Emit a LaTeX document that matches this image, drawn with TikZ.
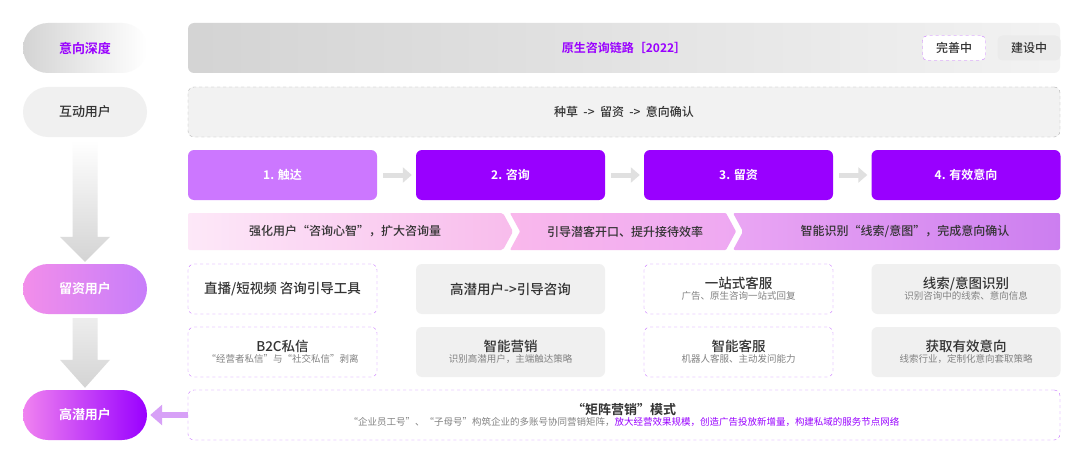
\documentclass[tikz,border=0pt]{standalone}
\usepackage{fontspec}
\setmainfont{Noto Sans CJK SC}[BoldFont={Noto Sans CJK SC Bold}]
\newfontfamily\medfont{Noto Sans CJK SC Medium}
\usepackage{tikz}
\usetikzlibrary{calc}
\usetikzlibrary{arrows.meta}

\definecolor{vio}{RGB}{153,0,255}
\definecolor{lilac}{RGB}{204,119,255}
\definecolor{txt}{RGB}{51,51,51}
\definecolor{subtxt}{RGB}{130,130,130}
\definecolor{barrow}{RGB}{215,160,247}

\tikzset{
  pill/.style={rounded corners=25pt, minimum width=124pt, minimum height=50pt, font=\bfseries\fontsize{13}{15}\selectfont},
  bar/.style={rounded corners=6pt, minimum width=872pt, minimum height=50pt},
  stepbox/.style={rounded corners=6pt, minimum width=189pt, minimum height=50pt, text=white, font=\bfseries\fontsize{12}{14}\selectfont},
  featd/.style={rounded corners=6pt, minimum width=189pt, minimum height=50pt, draw=vio!55, dashed, fill=white, align=center, text=txt},
  featg/.style={rounded corners=6pt, minimum width=189pt, minimum height=50pt, fill=black!6, align=center, text=txt},
  badge/.style={rounded corners=5pt, minimum width=63pt, minimum height=25pt, text=txt, font=\medfont\fontsize{12}{14}\selectfont},
  chev/.style={font=\medfont\fontsize{12}{14}\selectfont, text=txt},
  steparrow/.style={-{Triangle[length=9pt,width=15pt]}, line width=5pt, black!12, shorten <=6pt, shorten >=4pt},
  bararrow/.style={-{Triangle[length=12pt,width=20pt]}, line width=6pt, barrow, shorten >=3pt}
}
\newcommand{\ttl}[1]{{\medfont\fontsize{13.5}{16}\selectfont #1}}
\newcommand{\sub}[1]{{\fontsize{9.5}{12}\selectfont\color{subtxt}#1}}

\begin{document}
\begin{tikzpicture}[x=1pt, y=-1pt]

\useasboundingbox[fill=white] (0,0) rectangle (1080,452);

% left column
\node[pill, left color=black!17, right color=white, text=vio] (depth) at (85,48) {意向深度};
\node[pill, fill=black!6, text=txt, font=\medfont\fontsize{13}{15}\selectfont] (intr) at (85,112) {互动用户};
\node[pill, left color={rgb,255:red,242;green,142;blue,234}, right color={rgb,255:red,199;green,125;blue,250}, text=white] (lz) at (85,289) {留资用户};
\node[pill, left color={rgb,255:red,240;green,130;blue,240}, right color=vio, text=white] (high) at (85,415) {高潜用户};

\shade[top color=white, bottom color=black!17] let \p1=(intr.south), \p2=(lz.north) in
  (\x1-12.5pt,\y1-3pt) -- (\x1+12.5pt,\y1-3pt) -- (\x1+12.5pt,\y2+27pt) -- (\x1+25pt,\y2+27pt)
  -- (\x1,\y2+2pt) -- (\x1-25pt,\y2+27pt) -- (\x1-12.5pt,\y2+27pt) -- cycle;
\shade[top color=black!7, bottom color=black!17] let \p1=(lz.south), \p2=(high.north) in
  (\x1-12.5pt,\y1-4pt) -- (\x1+12.5pt,\y1-4pt) -- (\x1+12.5pt,\y2+30pt) -- (\x1+25pt,\y2+30pt)
  -- (\x1,\y2+2pt) -- (\x1-25pt,\y2+30pt) -- (\x1-12.5pt,\y2+30pt) -- cycle;

% top bars
\node[bar, left color=black!17, right color=black!5, text=vio, font=\bfseries\fontsize{12}{14}\selectfont] (chain) at (624,48) {原生咨询链路［2022］};
\node[badge, draw=vio!55, dashed, fill=white] (done) at (954,48) {完善中};
\node[badge, fill=black!8] (build) at (1029,48) {建设中};
\node[bar, fill=black!5, draw=black!30, dashed, text=txt, font=\medfont\fontsize{12}{14}\selectfont] (flow) at (624,112) {种草\ \ ->\ \ 留资\ \ ->\ \ 意向确认};

% steps
\node[stepbox, fill=lilac] (s1) at (282.5,175) {1. 触达};
\node[stepbox, fill=vio] (s2) at (510.5,175) {2. 咨询};
\node[stepbox, fill=vio] (s3) at (738.5,175) {3. 留资};
\node[stepbox, fill=vio] (s4) at (966,175) {4. 有效意向};
\draw[steparrow] (s1.east) -- (s2.west);
\draw[steparrow] (s2.east) -- (s3.west);
\draw[steparrow] (s3.east) -- (s4.west);

% chevrons
\shade[left color={rgb,255:red,253;green,232;blue,248}, right color={rgb,255:red,248;green,188;blue,236}, rounded corners=2pt]
  (188,213) -- (503,213) -- (513,231.5) -- (503,250) -- (188,250) -- cycle;
\shade[left color={rgb,255:red,249;green,184;blue,236}, right color={rgb,255:red,238;green,168;blue,242}, rounded corners=1pt]
  (510,213) -- (726,213) -- (736,231.5) -- (726,250) -- (510,250) -- (520,231.5) -- cycle;
\shade[left color={rgb,255:red,234;green,166;blue,243}, right color={rgb,255:red,204;green,126;blue,240}, rounded corners=2pt]
  (733,213) -- (1060,213) -- (1060,250) -- (733,250) -- (743,231.5) -- cycle;
\node[chev] (c1) at (345,231.5) {强化用户“咨询心智”，扩大咨询量};
\node[chev] (c2) at (625,231.5) {引导潜客开口、提升接待效率};
\node[chev] (c3) at (905,231.5) {智能识别“线索/意图”，完成意向确认};

% features
\node[featd] (f11) at (282.5,289) {\ttl{直播/短视频 咨询引导工具}};
\node[featg] (f12) at (510.5,289) {\ttl{高潜用户->引导咨询}};
\node[featd] (f13) at (738.5,289) {\ttl{一站式客服}\\[-1pt]\sub{广告、原生咨询一站式回复}};
\node[featg] (f14) at (966,289) {\ttl{线索/意图识别}\\[-1pt]\sub{识别咨询中的线索、意向信息}};
\node[featd] (f21) at (282.5,352) {\ttl{B2C私信}\\[-1pt]\sub{“经营者私信”与“社交私信”剥离}};
\node[featg] (f22) at (510.5,352) {\ttl{智能营销}\\[-1pt]\sub{识别高潜用户，主端触达策略}};
\node[featd] (f23) at (738.5,352) {\ttl{智能客服}\\[-1pt]\sub{机器人客服、主动发问能力}};
\node[featg] (f24) at (966,352) {\ttl{获取有效意向}\\[-1pt]\sub{线索行业，定制化意向套取策略}};

% matrix
\node[bar, draw=vio!55, dashed, fill=white, align=center, text=txt] (matrix) at (624,415)
  {{\bfseries\fontsize{13}{15}\selectfont “矩阵营销”模式}\\[-1pt]
   \sub{“企业员工号”、“子母号”构筑企业的多账号协同营销矩阵，}{\fontsize{9.5}{12}\selectfont\color{vio}放大经营效果规模，创造广告投放新增量，构建私域的服务节点网络}};
\draw[bararrow] (matrix.west) -- (high.east);

\end{tikzpicture}
\end{document}
